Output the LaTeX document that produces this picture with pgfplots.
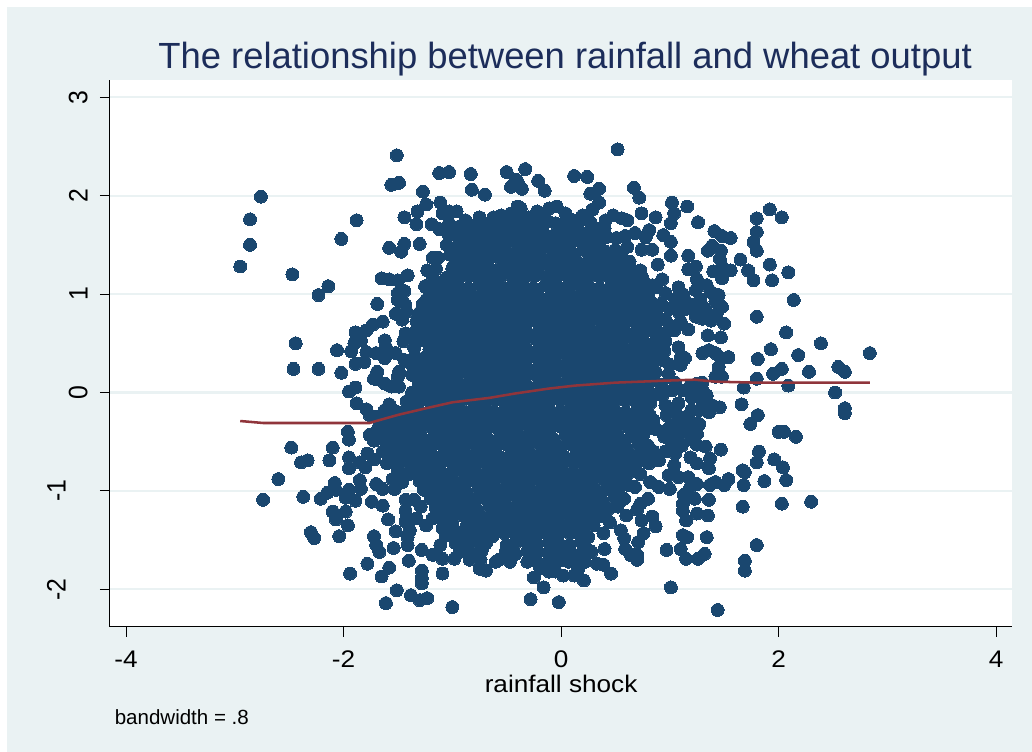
\documentclass[border=0pt]{standalone}
\usepackage{fontspec}
\setmainfont{Liberation Sans}
\usepackage{pgfplots}
\pgfplotsset{compat=1.18}
\definecolor{bgc}{HTML}{EAF2F3}
\definecolor{navyd}{HTML}{1A476F}
\definecolor{lineR}{HTML}{90353B}
\definecolor{titlec}{HTML}{1C2D5A}
\newcommand{\sx}[1]{\scalebox{1.09}[1]{#1}}
\newcommand{\sy}[1]{\scalebox{0.93}[1]{#1}}
\begin{document}
\begin{tikzpicture}[x=0.75pt,y=0.75pt]
\path[use as bounding box] (0,0) rectangle (1032,752);
\fill[bgc] (7,0) rectangle (1032,745);
\begin{axis}[
 at={(101,127.3)},anchor=south west,
 scale only axis,width=902.5*0.75pt,height=546.5*0.75pt,
 xmin=-4.149,xmax=4.150,ymin=-2.38,ymax=3.173,
 axis x line*=bottom,axis y line*=left,
 axis line style={black,line width=0.8pt,-},
 axis background/.style={fill=white},
 xtick={-4,-2,0,2,4},xticklabels={\sx{-4},\sx{-2},\sx{0},\sx{2},\sx{4}},
 ytick={-2,-1,0,1,2,3},
 yticklabels={\raisebox{16.5pt}{\sy{-2}},\raisebox{16.5pt}{\sy{-1}},\sy{0},\sy{1},\sy{2},\sy{3}},
 ymajorgrids,grid style={bgc,line width=1.6pt},
 tick align=outside,major tick length=7.5pt,
 tick style={black,line width=0.6pt},
 x tick label style={inner sep=0pt,yshift=-10.5pt,font=\fontsize{18}{20}\selectfont,black},
 y tick label style={rotate=90,anchor=south,inner sep=0pt,yshift=9pt,font=\fontsize{20}{22}\selectfont,black},
 title={The relationship between rainfall and wheat output},
 title style={font=\fontsize{27.3}{30}\selectfont,color=titlec,at={(axis description cs:0.5,1)},anchor=base,inner sep=0pt,yshift=3pt,xshift=3pt},
 xlabel={\sx{rainfall shock}},
 xlabel style={font=\fontsize{18}{20}\selectfont,black,at={(axis description cs:0.5,0)},anchor=base,inner sep=0pt,yshift=-49pt},
 clip mode=individual,
]
\addplot[only marks,mark=*,mark size=4.85pt,mark options={fill=navyd,draw=navyd,line width=0pt}] coordinates {
(-2.76,1.99)(-2.86,1.76)(-2.86,1.50)(-2.95,1.28)(-2.47,1.20)(-2.14,1.08)(-2.23,0.99)(-1.88,1.75)(-2.02,1.56)(-2.44,0.50)(-2.46,0.24)(-2.23,0.24)(-2.06,0.43)(-2.02,0.20)
(-1.51,2.41)(-1.56,2.11)(-1.49,2.13)(-1.12,2.23)(-1.03,2.24)(-0.83,2.22)(-0.82,2.06)(-0.70,2.01)(-1.27,2.04)(-1.24,1.91)(-1.32,1.84)(-1.44,1.78)(-1.33,1.71)(-1.19,1.71)(-1.11,1.93)(-1.09,1.82)(-1.03,1.84)(-0.96,1.84)(-1.12,1.66)(-1.03,1.72)(-1.03,1.60)(-1.44,1.51)(-1.47,1.43)(-1.58,1.47)(-1.30,1.51)(-1.18,1.37)(-1.13,1.37)(-1.23,1.24)(-1.15,1.26)(-1.00,1.20)(-0.94,1.36)(-0.89,1.33)
(-1.65,1.16)(-1.58,1.15)(-1.50,1.14)(-1.41,1.19)(-1.44,1.03)(-1.50,1.01)(-1.50,0.94)(-1.43,0.89)(-1.69,0.90)(-1.42,0.82)(-1.52,0.80)(-1.64,0.72)(-1.73,0.69)(-1.79,0.63)(-1.89,0.61)(-1.84,0.53)(-1.90,0.50)(-1.93,0.42)(-1.46,0.74)(-1.43,0.60)(-1.45,0.52)(-1.62,0.53)(-1.61,0.46)(-1.79,0.41)(-1.62,0.35)(-1.70,0.40)(-1.89,0.29)(-1.81,0.31)(-1.52,0.40)(-1.44,0.33)(-1.49,0.21)(-1.39,0.30)(-1.69,0.21)(-1.72,0.14)(-1.70,0.14)(-1.62,0.09)(-1.49,0.06)(-1.56,0.06)(-1.50,0.16)(-1.89,0.05)(-1.95,0.01)(-1.88,-0.11)(-1.79,-0.17)(-1.76,-0.23)(-1.70,-0.25)(-1.58,-0.12)
(-1.96,-0.40)(-1.95,-0.48)(-2.48,-0.56)(-2.10,-0.56)(-2.33,-0.69)(-2.39,-0.71)(-2.13,-0.69)(-1.95,-0.66)(-1.95,-0.77)(-1.85,-0.71)(-1.78,-0.62)(-1.80,-0.76)(-1.76,-0.43)(-1.72,-0.49)(-1.64,-0.60)(-2.60,-0.88)(-2.74,-1.09)(-2.37,-1.06)(-2.21,-1.08)(-2.15,-1.02)(-2.08,-0.92)(-2.07,-0.99)(-1.95,-0.99)(-1.84,-0.98)(-1.89,-1.10)(-1.98,-1.07)(-1.85,-0.89)(-1.70,-0.93)(-1.64,-0.98)(-1.53,-0.98)(-1.46,-0.91)(-1.74,-1.11)(-1.64,-1.15)(-2.10,-1.21)(-2.07,-1.29)(-1.98,-1.21)(-1.96,-1.35)(-2.04,-1.46)(-2.30,-1.42)(-2.27,-1.48)(-1.59,-1.29)(-1.52,-1.41)(-1.72,-1.46)(-1.70,-1.55)(-1.67,-1.62)(-1.54,-1.58)(-1.78,-1.74)(-1.94,-1.84)(-1.58,-1.78)(-1.65,-1.87)(-1.51,-2.01)(-1.61,-2.14)(-1.38,-2.06)(-1.30,-2.11)(-1.23,-2.09)(-1.00,-2.18)(-1.28,-1.81)(-1.28,-1.89)(-1.28,-1.94)(-1.09,-1.84)(-1.40,-1.71)(-1.41,-1.55)(-1.41,-1.47)(-1.28,-1.60)(-1.11,-1.55)(-1.18,-1.65)(-1.09,-1.69)(-0.98,-1.69)(-0.84,-1.70)(-0.74,-1.70)(-0.69,-1.81)(-0.75,-1.79)(-0.57,-1.70)
(-1.43,-1.09)(-1.35,-1.09)(-1.43,-1.20)(-1.29,-1.16)(-1.43,-1.31)(-1.33,-1.28)(-1.39,-1.40)(-1.24,-1.35)(-1.09,-1.38)(-1.18,-1.28)(-0.94,-1.42)(-1.06,-1.45)(-1.24,1.07)(-1.16,1.11)(-1.27,0.80)(-1.24,0.94)
(0.52,2.47)(-0.33,2.27)(-0.40,2.14)(-0.36,2.07)(-0.21,2.15)(-0.15,2.05)(0.12,2.20)(0.24,2.19)(0.35,2.07)(0.27,2.02)(0.35,1.93)(0.29,1.86)(0.67,2.08)(0.72,1.98)(1.02,1.93)(1.04,1.82)(1.01,1.72)(1.16,1.89)(1.26,1.73)(1.41,1.64)(1.48,1.59)(1.56,1.57)(1.39,1.49)(1.35,1.44)(1.47,1.44)(1.46,1.36)(1.17,1.39)(1.01,1.39)(0.89,1.30)(1.17,1.25)(1.24,1.28)(1.40,1.23)(1.48,1.16)(1.48,1.28)(1.56,1.24)(1.65,1.35)(1.72,1.24)(1.77,1.14)(1.80,1.77)(1.92,1.86)(2.03,1.78)(1.80,1.63)(1.77,1.53)(1.80,1.44)(1.92,1.30)(1.94,1.14)(2.09,1.22)(2.14,0.94)(1.80,0.77)(2.07,0.61)(2.39,0.50)(1.93,0.44)(2.18,0.38)(1.81,0.34)(2.84,0.40)(2.55,0.26)(2.61,0.21)(2.28,0.21)(2.03,0.24)(1.95,0.19)(1.80,0.14)
(2.09,0.07)(1.68,0.05)(2.52,0.00)(2.61,-0.16)(2.61,-0.21)(1.66,-0.12)(1.81,-0.23)(1.74,-0.32)(2.00,-0.40)(2.05,-0.40)(2.16,-0.45)(1.82,-0.60)(1.80,-0.71)(1.96,-0.68)(2.04,-0.76)(2.07,-0.89)(1.87,-0.90)(1.67,-0.79)(1.69,-0.81)(1.68,-0.94)(2.03,-1.13)(2.30,-1.11)(1.67,-1.16)(1.80,-1.55)(1.69,-1.71)(1.69,-1.81)(1.01,-1.98)(1.44,-2.21)(-0.02,-2.13)(-0.28,-2.10)(-0.16,-1.98)(-0.25,-1.88)(0.21,-1.91)(0.46,-1.84)(0.39,-1.75)(0.33,-1.74)(0.12,-1.86)(0.02,-1.86)(-0.05,-1.82)(-0.11,-1.82)(-0.19,-1.79)(0.16,-1.79)(-0.31,-1.72)(0.70,-1.70)(0.70,-1.65)(0.59,-1.59)(0.64,-1.65)(0.40,-1.59)(0.71,-1.52)(0.76,-1.43)(0.55,-1.40)(0.58,-1.48)(0.45,-1.32)(0.39,-1.43)(0.30,-1.35)(0.24,-1.59)(0.16,-1.69)(0.97,-1.60)(1.10,-1.59)(1.15,-1.69)(1.26,-1.69)(1.32,-1.64)(1.12,-1.45)(1.16,-1.47)(1.34,-1.47)(0.87,-1.36)(0.84,-1.26)(0.74,-1.30)(0.60,-1.25)(0.80,-1.08)(0.73,-1.13)(0.70,-1.19)(1.15,-1.30)(1.12,-1.20)(1.25,-1.23)(1.35,-1.25)(1.12,-1.13)(1.13,-1.04)(1.23,-1.08)(1.36,-1.09)(0.68,-0.96)(0.62,-0.94)(0.90,-0.96)(1.00,-0.98)(0.82,-0.91)
(0.99,-0.84)(1.08,-0.86)(1.17,-0.86)(1.25,-0.93)(1.19,-0.96)(1.37,-0.94)(1.50,-0.94)(1.54,-0.88)(1.42,-0.91)(1.04,-0.74)(1.19,-0.66)(1.25,-0.72)(1.36,-0.77)(1.37,-0.67)(1.47,-0.58)(1.33,-0.55)(1.25,-0.53)(1.11,-0.54)(1.02,-0.52)(0.96,-0.60)(0.85,-0.60)(0.90,-0.69)(0.81,-0.72)(1.25,-0.42)(1.17,-0.40)(1.27,-0.32)(1.14,-0.25)(1.08,-0.30)(1.08,-0.11)(1.27,-0.18)(1.36,-0.20)(1.46,-0.15)(1.34,-0.03)(1.19,0.00)(1.39,-0.13)(1.25,0.09)(1.19,0.07)(1.42,0.16)(1.48,0.16)(0.93,-0.40)(1.02,-0.47)(0.87,-0.37)(0.97,-0.23)(0.96,-0.13)(0.93,-0.03)(0.81,-0.22)(0.74,-0.13)
(1.45,0.26)(1.45,0.18)(1.36,0.43)(1.42,0.40)(1.30,0.40)(1.54,0.36)(1.47,0.35)(0.94,0.33)(1.10,0.35)(1.14,0.35)(1.08,0.46)(0.96,0.52)(0.85,0.50)(0.87,0.21)(0.99,0.19)(1.04,0.63)(1.17,0.64)(1.35,0.58)(1.47,0.56)(1.50,0.70)(1.24,0.77)(1.34,0.82)(1.43,0.79)(1.48,0.87)(1.45,0.99)(1.42,0.92)(1.22,0.89)(1.14,0.94)(1.08,0.82)(0.96,0.74)(0.90,0.74)(0.96,1.01)(1.08,1.07)(1.24,1.04)(1.34,1.09)(1.25,1.15)(0.93,1.15)(0.84,1.09)(0.88,1.07)(0.73,1.24)(0.56,1.24)
(1.01,1.53)(0.94,1.60)(0.87,1.78)(0.81,1.65)(0.74,1.82)(0.84,1.45)(0.74,1.45)(0.78,1.58)(0.68,1.62)(0.61,1.75)(0.48,1.80)(0.41,1.75)(0.40,1.67)(0.56,1.77)(0.51,1.57)(0.59,1.59)(0.61,1.48)(0.35,1.50)(0.27,1.73)(0.15,1.72)(0.19,1.62)(0.02,1.57)(0.01,1.63)(0.04,1.82)(-0.04,1.89)(-0.11,1.87)(-0.22,1.84)(-0.30,1.78)(-0.37,1.87)(-0.42,1.78)
(-0.50,2.24)(-0.46,2.09)(-0.41,2.16)(-0.40,1.89)(-0.46,1.82)(-0.62,1.78)(-0.75,1.78)(-0.84,1.70)(-0.70,1.60)(-0.92,1.62)(-0.81,1.51)(-0.97,1.46)(-0.74,1.46)(-0.59,1.68)(-0.52,1.72)(-0.66,1.72)(-0.22,1.72)(-0.12,1.74)(0.09,1.76)(-0.33,1.70)
(-1.05,1.50)(-1.02,1.40)(-0.98,1.30)(-1.10,1.12)(-1.18,1.18)(-0.93,1.52)(-0.86,1.56)(-0.95,1.68)(-0.88,1.75)(-0.78,1.68)(-0.70,1.72)(-0.55,1.80)(-0.47,1.72)(-0.40,1.68)(-0.28,1.68)(-0.18,1.80)(-0.05,1.72)(0.05,1.72)(0.20,1.80)(0.10,1.70)(0.30,1.68)(0.42,1.58)(0.35,1.60)
(0.92,0.90)(1.00,0.85)(1.05,0.95)(1.12,1.00)(1.15,0.85)(1.28,0.95)(1.30,0.88)(1.38,1.02)(0.88,0.62)(0.98,0.62)(1.00,0.68)(1.30,0.75)(1.38,0.73)(1.10,0.72)(0.90,0.40)(0.95,0.42)(1.00,0.28)(0.80,0.28)(1.10,0.28)(1.05,0.10)(1.12,0.02)(1.02,0.02)(1.30,0.02)(1.30,0.10)(1.30,-0.08)(1.20,-0.05)(1.22,0.05)(1.33,-0.15)(1.20,-0.18)(1.05,-0.20)(1.15,-0.33)(1.10,-0.42)(1.00,-0.35)(1.20,-0.30)(1.20,-0.48)(0.95,-0.45)(1.05,-0.62)
(-1.55,-0.88)(-1.40,-0.83)(-1.55,-0.70)(-1.72,-0.68)
(-0.85,1.62)(-0.76,1.60)(-0.66,1.63)(-0.55,1.61)(-0.46,1.62)(-0.36,1.60)(-0.27,1.63)(-0.16,1.62)(-0.06,1.60)(0.05,1.63)(0.14,1.61)(0.25,1.62)
(-0.80,1.53)(-0.71,1.52)(-0.60,1.54)(-0.51,1.53)(-0.41,1.51)(-0.31,1.54)(-0.21,1.53)(-0.11,1.52)(0.00,1.54)(0.09,1.53)(0.20,1.51)(0.29,1.54)
(-0.90,1.44)(-0.80,1.43)(-0.69,1.45)(-0.60,1.44)(-0.50,1.42)(-0.39,1.45)(-0.29,1.44)(-0.20,1.43)(-0.09,1.45)(0.00,1.44)(0.10,1.42)(0.21,1.45)(0.30,1.44)(0.41,1.43)(0.50,1.45)(0.55,1.42)
(-0.85,1.35)(-0.74,1.34)(-0.66,1.36)(-0.55,1.35)(-0.44,1.33)(-0.35,1.36)(-0.25,1.35)(-0.14,1.34)(-0.05,1.36)(0.06,1.35)(0.15,1.33)(0.26,1.36)(0.35,1.35)(0.45,1.34)(0.56,1.36)(0.63,1.33)
(-1.00,1.26)(-0.90,1.25)(-0.80,1.27)(-0.69,1.26)(-0.60,1.24)(-0.50,1.27)(-0.39,1.26)(-0.30,1.25)(-0.20,1.27)(-0.09,1.26)(0.00,1.24)(0.11,1.27)(0.20,1.26)(0.30,1.25)(0.41,1.27)(0.50,1.26)(0.62,1.24)
(-1.05,1.17)(-0.95,1.16)(-0.85,1.18)(-0.74,1.17)(-0.65,1.15)(-0.55,1.18)(-0.44,1.17)(-0.35,1.16)(-0.25,1.18)(-0.14,1.17)(-0.05,1.15)(0.06,1.18)(0.15,1.17)(0.25,1.16)(0.36,1.18)(0.45,1.17)(0.55,1.15)(0.66,1.17)(0.75,1.16)
(-1.25,1.08)(-1.15,1.07)(-1.05,1.09)(-0.94,1.08)(-0.85,1.06)(-0.75,1.09)(-0.64,1.08)(-0.55,1.07)(-0.45,1.09)(-0.34,1.08)(-0.25,1.06)(-0.14,1.09)(-0.05,1.08)(0.05,1.07)(0.16,1.09)(0.25,1.08)(0.35,1.06)(0.46,1.09)(0.55,1.08)(0.65,1.07)(0.76,1.09)
(-1.20,0.99)(-1.10,0.98)(-1.00,1.00)(-0.89,0.99)(-0.80,0.97)(-0.70,1.00)(-0.59,0.99)(-0.50,0.98)(-0.40,1.00)(-0.29,0.99)(-0.20,0.97)(-0.09,1.00)(0.00,0.99)(0.10,0.98)(0.21,1.00)(0.30,0.99)(0.40,0.97)(0.51,1.00)(0.60,0.99)(0.70,0.98)(0.80,1.00)
(-1.27,0.90)(-1.16,0.89)(-1.06,0.91)(-0.95,0.90)(-0.86,0.88)(-0.76,0.91)(-0.65,0.90)(-0.56,0.89)(-0.46,0.91)(-0.35,0.90)(-0.26,0.88)(-0.15,0.91)(-0.06,0.90)(0.04,0.89)(0.15,0.91)(0.24,0.90)(0.34,0.88)(0.45,0.91)(0.54,0.90)(0.64,0.89)(0.75,0.91)(0.85,0.90)
(-1.30,0.81)(-1.21,0.80)(-1.11,0.82)(-1.00,0.81)(-0.91,0.79)(-0.81,0.82)(-0.70,0.81)(-0.61,0.80)(-0.51,0.82)(-0.40,0.81)(-0.31,0.79)(-0.20,0.82)(-0.11,0.81)(-0.01,0.80)(0.10,0.82)(0.19,0.81)(0.29,0.79)(0.40,0.82)(0.49,0.81)(0.59,0.80)(0.70,0.82)(0.80,0.81)(0.88,0.80)
(-1.33,0.72)(-1.26,0.71)(-1.16,0.73)(-1.05,0.72)(-0.96,0.70)(-0.86,0.73)(-0.75,0.72)(-0.66,0.71)(-0.56,0.73)(-0.45,0.72)(-0.36,0.70)(-0.25,0.73)(-0.16,0.72)(-0.06,0.71)(0.05,0.73)(0.14,0.72)(0.24,0.70)(0.35,0.73)(0.44,0.72)(0.54,0.71)(0.65,0.73)(0.75,0.72)(0.85,0.70)
(-1.33,0.63)(-1.21,0.62)(-1.11,0.64)(-1.00,0.63)(-0.91,0.61)(-0.81,0.64)(-0.70,0.63)(-0.61,0.62)(-0.51,0.64)(-0.40,0.63)(-0.31,0.61)(-0.20,0.64)(-0.11,0.63)(-0.01,0.62)(0.10,0.64)(0.19,0.63)(0.29,0.61)(0.40,0.64)(0.49,0.63)(0.59,0.62)(0.70,0.64)(0.80,0.63)(0.90,0.61)
(-1.35,0.54)(-1.26,0.53)(-1.16,0.55)(-1.05,0.54)(-0.96,0.52)(-0.86,0.55)(-0.75,0.54)(-0.66,0.53)(-0.56,0.55)(-0.45,0.54)(-0.36,0.52)(-0.25,0.55)(-0.16,0.54)(-0.06,0.53)(0.05,0.55)(0.14,0.54)(0.24,0.52)(0.35,0.55)(0.44,0.54)(0.54,0.53)(0.65,0.55)(0.75,0.54)
(-1.35,0.45)(-1.21,0.44)(-1.11,0.46)(-1.00,0.45)(-0.91,0.43)(-0.81,0.46)(-0.70,0.45)(-0.61,0.44)(-0.51,0.46)(-0.40,0.45)(-0.31,0.43)(-0.20,0.46)(-0.11,0.45)(-0.01,0.44)(0.10,0.46)(0.19,0.45)(0.29,0.43)(0.40,0.46)(0.49,0.45)(0.59,0.44)(0.70,0.46)(0.80,0.45)
(-1.35,0.36)(-1.26,0.35)(-1.16,0.37)(-1.05,0.36)(-0.96,0.34)(-0.86,0.37)(-0.75,0.36)(-0.66,0.35)(-0.56,0.37)(-0.45,0.36)(-0.36,0.34)(-0.25,0.37)(-0.16,0.36)(-0.06,0.35)(0.05,0.37)(0.14,0.36)(0.24,0.34)(0.35,0.37)(0.44,0.36)(0.54,0.35)(0.65,0.37)(0.75,0.36)(0.85,0.34)
(-1.31,0.27)(-1.21,0.26)(-1.11,0.28)(-1.00,0.27)(-0.91,0.25)(-0.81,0.28)(-0.70,0.27)(-0.61,0.26)(-0.51,0.28)(-0.40,0.27)(-0.31,0.25)(-0.20,0.28)(-0.11,0.27)(-0.01,0.26)(0.10,0.28)(0.19,0.27)(0.29,0.25)(0.40,0.28)(0.49,0.27)(0.59,0.26)(0.70,0.28)(0.80,0.27)
(-1.37,0.18)(-1.26,0.17)(-1.16,0.19)(-1.05,0.18)(-0.96,0.16)(-0.86,0.19)(-0.75,0.18)(-0.66,0.17)(-0.56,0.19)(-0.45,0.18)(-0.36,0.16)(-0.25,0.19)(-0.16,0.18)(-0.06,0.17)(0.05,0.19)(0.14,0.18)(0.24,0.16)(0.35,0.19)(0.44,0.18)(0.54,0.17)(0.65,0.19)(0.75,0.18)(0.85,0.16)
(-1.31,0.09)(-1.21,0.08)(-1.11,0.10)(-1.00,0.09)(-0.91,0.07)(-0.81,0.10)(-0.70,0.09)(-0.61,0.08)(-0.51,0.10)(-0.40,0.09)(-0.31,0.07)(-0.20,0.10)(-0.11,0.09)(-0.01,0.08)(0.10,0.10)(0.19,0.09)(0.29,0.07)(0.40,0.10)(0.49,0.09)(0.59,0.08)(0.70,0.10)(0.80,0.09)(0.92,0.08)
(-1.37,0.00)(-1.26,-0.01)(-1.16,0.01)(-1.05,0.00)(-0.96,-0.02)(-0.86,0.01)(-0.75,0.00)(-0.66,-0.01)(-0.56,0.01)(-0.45,0.00)(-0.36,-0.02)(-0.25,0.01)(-0.16,0.00)(-0.06,-0.01)(0.05,0.01)(0.14,0.00)(0.24,-0.02)(0.35,0.01)(0.44,0.00)(0.54,-0.01)(0.65,0.01)(0.75,0.00)(0.85,-0.02)
(-1.42,-0.09)(-1.31,-0.10)(-1.21,-0.08)(-1.10,-0.09)(-1.01,-0.11)(-0.91,-0.08)(-0.80,-0.09)(-0.71,-0.10)(-0.61,-0.08)(-0.50,-0.09)(-0.41,-0.11)(-0.30,-0.08)(-0.21,-0.09)(-0.11,-0.10)(0.00,-0.08)(0.09,-0.09)(0.19,-0.11)(0.30,-0.08)(0.39,-0.09)(0.49,-0.10)(0.60,-0.08)(0.70,-0.09)(0.82,-0.11)
(-1.62,-0.18)(-1.52,-0.19)(-1.42,-0.17)(-1.32,-0.18)(-1.22,-0.20)(-1.11,-0.17)(-1.01,-0.18)(-0.92,-0.19)(-0.81,-0.17)(-0.71,-0.18)(-0.62,-0.20)(-0.51,-0.17)(-0.42,-0.18)(-0.32,-0.19)(-0.21,-0.17)(-0.12,-0.18)(-0.02,-0.20)(0.09,-0.17)(0.18,-0.18)(0.28,-0.19)(0.39,-0.17)(0.49,-0.18)(0.59,-0.20)(0.70,-0.17)
(-1.65,-0.27)(-1.56,-0.28)(-1.46,-0.26)(-1.37,-0.27)(-1.27,-0.29)(-1.16,-0.26)(-1.06,-0.27)(-0.97,-0.28)(-0.86,-0.26)(-0.76,-0.27)(-0.67,-0.29)(-0.56,-0.26)(-0.47,-0.27)(-0.37,-0.28)(-0.26,-0.26)(-0.17,-0.27)(-0.07,-0.29)(0.04,-0.26)(0.13,-0.27)(0.23,-0.28)(0.34,-0.26)(0.44,-0.27)(0.54,-0.29)(0.65,-0.26)(0.76,-0.27)(0.85,-0.28)
(-1.68,-0.36)(-1.60,-0.37)(-1.50,-0.35)(-1.41,-0.36)(-1.31,-0.38)(-1.20,-0.35)(-1.10,-0.36)(-1.01,-0.37)(-0.90,-0.35)(-0.80,-0.36)(-0.71,-0.38)(-0.60,-0.35)(-0.51,-0.36)(-0.41,-0.37)(-0.30,-0.35)(-0.21,-0.36)(-0.11,-0.38)(0.00,-0.35)(0.09,-0.36)(0.19,-0.37)(0.30,-0.35)(0.40,-0.36)(0.50,-0.38)(0.61,-0.35)(0.70,-0.36)(0.80,-0.37)
(-1.66,-0.45)(-1.56,-0.46)(-1.46,-0.44)(-1.37,-0.45)(-1.27,-0.47)(-1.16,-0.44)(-1.06,-0.45)(-0.97,-0.46)(-0.86,-0.44)(-0.76,-0.45)(-0.67,-0.47)(-0.56,-0.44)(-0.47,-0.45)(-0.37,-0.46)(-0.26,-0.44)(-0.17,-0.45)(-0.07,-0.47)(0.04,-0.44)(0.13,-0.45)(0.23,-0.46)(0.34,-0.44)(0.44,-0.45)(0.54,-0.47)(0.65,-0.44)(0.75,-0.45)
(-1.60,-0.54)(-1.50,-0.55)(-1.41,-0.53)(-1.31,-0.54)(-1.21,-0.56)(-1.10,-0.53)(-1.00,-0.54)(-0.91,-0.55)(-0.80,-0.53)(-0.70,-0.54)(-0.61,-0.56)(-0.50,-0.53)(-0.41,-0.54)(-0.31,-0.55)(-0.20,-0.53)(-0.11,-0.54)(-0.01,-0.56)(0.10,-0.53)(0.19,-0.54)(0.29,-0.55)(0.40,-0.53)(0.50,-0.54)(0.60,-0.56)(0.71,-0.53)(0.80,-0.54)
(-1.58,-0.63)(-1.46,-0.64)(-1.36,-0.62)(-1.27,-0.63)(-1.17,-0.65)(-1.06,-0.62)(-0.96,-0.63)(-0.87,-0.64)(-0.76,-0.62)(-0.66,-0.63)(-0.57,-0.65)(-0.46,-0.62)(-0.37,-0.63)(-0.27,-0.64)(-0.16,-0.62)(-0.07,-0.63)(0.03,-0.65)(0.14,-0.62)(0.23,-0.63)(0.33,-0.64)(0.44,-0.62)(0.54,-0.63)(0.64,-0.65)(0.74,-0.62)
(-1.60,-0.72)(-1.50,-0.73)(-1.41,-0.71)(-1.31,-0.72)(-1.21,-0.74)(-1.10,-0.71)(-1.00,-0.72)(-0.91,-0.73)(-0.80,-0.71)(-0.70,-0.72)(-0.61,-0.74)(-0.50,-0.71)(-0.41,-0.72)(-0.31,-0.73)(-0.20,-0.71)(-0.11,-0.72)(-0.01,-0.74)(0.10,-0.71)(0.19,-0.72)(0.29,-0.73)(0.40,-0.71)(0.50,-0.72)(0.60,-0.74)(0.70,-0.71)
(-1.50,-0.81)(-1.37,-0.82)(-1.27,-0.80)(-1.18,-0.81)(-1.08,-0.83)(-0.97,-0.80)(-0.87,-0.81)(-0.78,-0.82)(-0.67,-0.80)(-0.57,-0.81)(-0.48,-0.83)(-0.37,-0.80)(-0.28,-0.81)(-0.18,-0.82)(-0.07,-0.80)(0.02,-0.81)(0.12,-0.83)(0.23,-0.80)(0.32,-0.81)(0.42,-0.82)(0.53,-0.80)(0.63,-0.81)(0.73,-0.83)
(-1.30,-0.90)(-1.21,-0.91)(-1.11,-0.89)(-1.02,-0.90)(-0.92,-0.92)(-0.81,-0.89)(-0.71,-0.90)(-0.62,-0.91)(-0.51,-0.89)(-0.41,-0.90)(-0.32,-0.92)(-0.21,-0.89)(-0.12,-0.90)(-0.02,-0.91)(0.09,-0.89)(0.18,-0.90)(0.28,-0.92)(0.39,-0.89)(0.48,-0.90)(0.58,-0.91)
(-1.26,-0.99)(-1.16,-1.00)(-1.06,-0.98)(-0.97,-0.99)(-0.87,-1.01)(-0.76,-0.98)(-0.66,-0.99)(-0.57,-1.00)(-0.46,-0.98)(-0.36,-0.99)(-0.27,-1.01)(-0.16,-0.98)(-0.07,-0.99)(0.03,-1.00)(0.14,-0.98)(0.23,-0.99)(0.33,-1.01)(0.44,-0.98)(0.53,-0.99)
(-1.20,-1.08)(-1.11,-1.09)(-1.01,-1.07)(-0.92,-1.08)(-0.82,-1.10)(-0.71,-1.07)(-0.61,-1.08)(-0.52,-1.09)(-0.41,-1.07)(-0.31,-1.08)(-0.22,-1.10)(-0.11,-1.07)(-0.02,-1.08)(0.08,-1.09)(0.19,-1.07)(0.28,-1.08)(0.38,-1.10)(0.49,-1.07)(0.58,-1.08)
(-1.15,-1.17)(-1.06,-1.18)(-0.96,-1.16)(-0.87,-1.17)(-0.77,-1.19)(-0.66,-1.16)(-0.56,-1.17)(-0.47,-1.18)(-0.36,-1.16)(-0.26,-1.17)(-0.17,-1.19)(-0.06,-1.16)(0.03,-1.17)(0.13,-1.18)(0.24,-1.16)(0.33,-1.17)(0.43,-1.19)(0.52,-1.16)
(-1.10,-1.26)(-1.01,-1.27)(-0.91,-1.25)(-0.82,-1.26)(-0.72,-1.28)(-0.61,-1.25)(-0.51,-1.26)(-0.42,-1.27)(-0.31,-1.25)(-0.21,-1.26)(-0.12,-1.28)(-0.01,-1.25)(0.08,-1.26)(0.18,-1.27)(0.29,-1.25)(0.38,-1.26)
(-1.00,-1.35)(-0.87,-1.36)(-0.77,-1.34)(-0.68,-1.35)(-0.58,-1.37)(-0.47,-1.34)(-0.37,-1.35)(-0.28,-1.36)(-0.17,-1.34)(-0.07,-1.35)(0.02,-1.37)(0.13,-1.34)(0.22,-1.35)
(-1.02,-1.44)(-0.92,-1.45)(-0.82,-1.43)(-0.73,-1.44)(-0.63,-1.46)(-0.52,-1.43)(-0.42,-1.44)(-0.33,-1.45)(-0.22,-1.43)(-0.12,-1.44)(-0.03,-1.46)(0.08,-1.43)(0.17,-1.44)(0.25,-1.47)
(-0.97,-1.53)(-0.87,-1.54)(-0.77,-1.52)(-0.69,-1.53)(-0.50,-1.55)(-0.41,-1.52)(-0.31,-1.53)(-0.22,-1.54)(-0.11,-1.52)(-0.02,-1.53)(0.08,-1.55)(0.19,-1.52)
(-0.93,-1.62)(-0.83,-1.63)(-0.73,-1.61)(-0.51,-1.62)(-0.42,-1.64)(-0.31,-1.61)(-0.22,-1.62)(-0.12,-1.63)(-0.01,-1.61)(0.08,-1.62)(0.18,-1.64)(0.28,-1.62)
(-0.60,-1.72)(-0.47,-1.72)(-0.22,-1.72)(-0.12,-1.73)(-0.02,-1.71)(0.07,-1.72)(0.22,-1.72)
};
\addplot[lineR,line width=1.9pt,no marks] coordinates {
(-2.95,-0.29)(-2.74,-0.31)(-2.50,-0.31)(-2.10,-0.31)(-1.76,-0.31)(-1.70,-0.29)(-1.49,-0.225)(-1.24,-0.16)(-1.00,-0.10)(-0.66,-0.055)(-0.42,-0.01)(-0.11,0.04)(0.13,0.07)(0.50,0.10)(0.96,0.12)(1.23,0.13)(1.42,0.11)(1.79,0.10)(2.34,0.10)(2.84,0.10)};
\end{axis}
\node[anchor=base west,inner sep=0pt,font=\fontsize{15.4}{17}\selectfont] at (114.5,27) {bandwidth = .8};
\end{tikzpicture}
\end{document}
